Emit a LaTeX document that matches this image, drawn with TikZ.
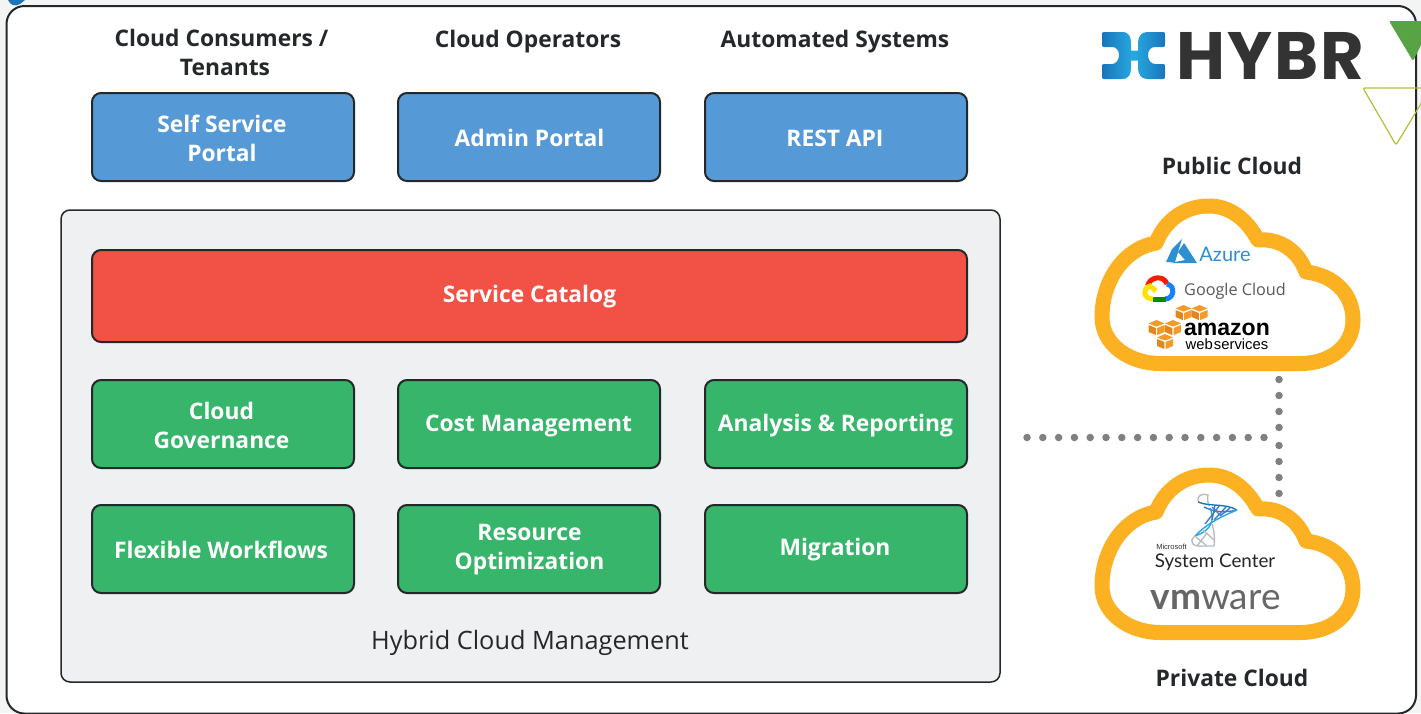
\documentclass[tikz,border=0pt]{standalone}
\usepackage{fontspec}
\setmainfont{Open Sans}
\newfontfamily\logofont{Liberation Sans}
\newfontfamily\thinfont{Lato}
\newfontfamily\brandfont[LetterSpace=3]{Poppins}
\usepackage{tikz}
\definecolor{FrameBack}{HTML}{F3F4F4}
\definecolor{PanelBack}{HTML}{EEF0F1}
\definecolor{EdgeDark}{HTML}{25282A}
\definecolor{PortalBlue}{HTML}{559AD6}
\definecolor{CatalogRed}{HTML}{F25145}
\definecolor{ModuleGreen}{HTML}{36B56B}
\definecolor{CloudGold}{HTML}{FBB122}
\definecolor{DotGrey}{HTML}{7F8082}
\definecolor{AwsOrange}{HTML}{F39A2B}
\definecolor{AwsDark}{HTML}{E4851E}
\definecolor{MarkEnd}{HTML}{1B75BB}
\definecolor{MarkMid}{HTML}{27AAE1}
\definecolor{AzureBlue}{HTML}{2E8FD0}
\definecolor{LeafGreen}{HTML}{58A445}
\definecolor{LeafOlive}{HTML}{B5BD3C}
\definecolor{HelixBlue}{HTML}{3F7CC8}
\definecolor{HelixGrey}{HTML}{B9BDC2}
\tikzstyle{none}=[inner sep=0pt,align=center]
\tikzstyle{head}=[none,font=\bfseries\fontsize{22.8}{29}\selectfont,text=EdgeDark]
\tikzstyle{tile}=[draw=EdgeDark,line width=2pt,rounded corners=9pt,minimum width=262pt,minimum height=88pt,inner sep=0pt]
\tikzstyle{boxtext}=[none,font=\bfseries\fontsize{22.8}{29}\selectfont,text=white]
\tikzstyle{portal}=[tile,fill=PortalBlue]
\tikzstyle{module}=[tile,fill=ModuleGreen]
\tikzstyle{dots}=[draw=DotGrey,line width=7.5pt,line cap=round]
\tikzstyle{cloudline}=[draw=CloudGold,line width=15pt,fill=white,line join=round]
\tikzstyle{gline}=[line width=5pt]
\tikzstyle{helix}=[draw=HelixBlue,line width=1.4pt]
\tikzstyle{helixgrey}=[draw=HelixGrey,line width=1.4pt]
\newcommand{\cloudpath}{(1160,363.5) -- (1300,363.5) .. controls (1332,363.5) and (1353,345) .. (1353,320) .. controls (1353,293) and (1333,275) .. (1306,272) .. controls (1299,252) and (1281,238) .. (1258,240) .. controls (1246,218) and (1229,206) .. (1209,206) .. controls (1185,206) and (1165,220) .. (1156,243) .. controls (1125,248) and (1102,280) .. (1102,317) .. controls (1102,345) and (1130,363.5) .. (1160,363.5) -- cycle}
\newcommand{\awscube}[2]{%
  \fill [AwsOrange] (#1-8,#2+3.5) -- (#1,#2) -- (#1+8,#2+3.5) -- (#1,#2+6.5) -- cycle;
  \fill [AwsDark] (#1-8,#2+5) -- (#1-.7,#2+8) -- (#1-.7,#2+15) -- (#1-8,#2+12) -- cycle;
  \fill [AwsOrange] (#1+8,#2+5) -- (#1+.7,#2+8) -- (#1+.7,#2+15) -- (#1+8,#2+12) -- cycle;}

\begin{document}
\begin{tikzpicture}[x=1pt,y=-1pt]
  \useasboundingbox (0,0) rectangle (1421,713);
  \fill [FrameBack] (0,0) rectangle (1421,713);
  \fill [MarkEnd] (8,0) .. controls (10,5) and (15,7) .. (20,4) -- (25,0) -- cycle;
  \draw [draw=EdgeDark,line width=2pt,fill=white,rounded corners=18pt] (6.5,6) rectangle (1416,713.5);
  % audience headings
  \node [style=head] (0) at (221.5,52) {Cloud Consumers /\\\hspace*{7pt}Tenants};
  \node [style=head] (1) at (528,42) {Cloud Operators};
  \node [style=head] (2) at (835,42) {Automated Systems};
  % portals
  \node [style=portal] (3) at (223,137) {};
  \node [style=portal] (4) at (529,137) {};
  \node [style=portal] (5) at (836,137) {};
  \node [style=boxtext] (6) at (222,138) {Self Service\\Portal};
  \node [style=boxtext] (7) at (529.5,138) {Admin Portal};
  \node [style=boxtext] (8) at (835,138) {REST API};
  % management panel
  \draw [draw=EdgeDark,line width=1.5pt,fill=PanelBack,rounded corners=9pt] (61,210) rectangle (1000,682);
  \node [style=tile,fill=CatalogRed,minimum width=875pt,minimum height=92pt] (9) at (529.5,296) {};
  \node [style=boxtext] (10) at (529.5,296.5) {Service Catalog};
  \node [style=module] (11) at (223,424) {};
  \node [style=module] (12) at (529,424) {};
  \node [style=module] (13) at (836,424) {};
  \node [style=module] (14) at (223,549) {};
  \node [style=module] (15) at (529,549) {};
  \node [style=module] (16) at (836,549) {};
  \node [style=boxtext] (17) at (221.5,425) {Cloud\\Governance};
  \node [style=boxtext] (18) at (528.5,426) {Cost Management};
  \node [style=boxtext] (19) at (835.5,426) {Analysis \& Reporting};
  \node [style=boxtext] (20) at (221,550) {Flexible Workflows};
  \node [style=boxtext] (21) at (529.5,550) {Resource\\Optimization};
  \node [style=boxtext] (22) at (835,550) {Migration};
  \node [style=none,font=\fontsize{25.3}{29}\selectfont,text=EdgeDark] (23) at (530,643) {Hybrid Cloud Management};
  % cloud headings
  \node [style=head] (24) at (1232,166) {Public Cloud};
  \node [style=head] (25) at (1232,678) {Private Cloud};
  % connectors
  \coordinate (26) at (1027,437.5);
  \coordinate (27) at (1264,437.5);
  \coordinate (28) at (1279,379.5);
  \coordinate (29) at (1279,427.5);
  \coordinate (30) at (1279,445.5);
  \coordinate (31) at (1279,493.5);
  \draw [style=dots,dash pattern=on 0pt off 15.8pt] (26) to (27);
  \draw [style=dots,dash pattern=on 0pt off 15.99pt] (28) to (29);
  \draw [style=dots,dash pattern=on 0pt off 15.99pt] (30) to (31);
  % clouds
  \draw [style=cloudline] \cloudpath;
  \begin{scope}[yshift=-269pt]
    \draw [style=cloudline] \cloudpath;
  \end{scope}
  % logo
  \shade [left color=MarkEnd,right color=MarkEnd,middle color=MarkMid] (1104,32) -- (1122,32) .. controls (1129,32) and (1131,37) .. (1131,43) -- (1131,50.5) -- (1138,50.5) -- (1138,43) .. controls (1138,37) and (1141,32) .. (1147,32) -- (1163,32) .. controls (1165,32) and (1165,33) .. (1165,35) -- (1165,44) .. controls (1165,46) and (1165,47) .. (1163,47) -- (1155,47) .. controls (1151,47) and (1148,50) .. (1148,55) .. controls (1148,60) and (1151,64) .. (1155,64) -- (1163,64) .. controls (1165,64) and (1165,65) .. (1165,67) -- (1165,76) .. controls (1165,78) and (1165,79) .. (1163,79) -- (1147,79) .. controls (1141,79) and (1138,74) .. (1138,68) -- (1138,60.5) -- (1131,60.5) -- (1131,68) .. controls (1131,74) and (1129,79) .. (1122,79) -- (1104,79) .. controls (1102,79) and (1102,78) .. (1102,76) -- (1102,67) .. controls (1102,65) and (1102,64) .. (1104,64) -- (1112,64) .. controls (1116,64) and (1119,60) .. (1119,55) .. controls (1119,50) and (1116,47) .. (1112,47) -- (1104,47) .. controls (1102,47) and (1102,46) .. (1102,44) -- (1102,35) .. controls (1102,33) and (1102,32) .. (1104,32) -- cycle;
  \node [style=none,font=\brandfont\bfseries\fontsize{67}{67}\selectfont,text=black!80] (32) at (1270,56) {HYBR};
  \fill [LeafGreen,rounded corners=2pt] (1389,21) -- (1425,21) -- (1425,37) -- (1413,61) -- cycle;
  \draw [draw=LeafOlive,line width=1.2pt,rounded corners=2pt] (1425,88) -- (1363,88) -- (1396,145) -- (1425,97);
  % public cloud logos
  \fill [AzureBlue] (1182,239) -- (1172,249) -- (1166,262) -- (1175,262) -- cycle;
  \fill [AzureBlue] (1184,243) -- (1197,263) -- (1170,263) -- (1185,260) -- (1178,252) -- cycle;
  \node [style=none,font=\thinfont\fontsize{20}{20}\selectfont,text=AzureBlue] (33) at (1225,254) {Azure};
  \draw [style=gline,draw=red!80!orange] (1147.5,286) .. controls (1150,276) and (1164,275) .. (1167,284);
  \draw [style=gline,draw=blue!55!cyan!90!white] (1167,284) .. controls (1176,286) and (1174,299) .. (1165,299);
  \draw [style=gline,draw=green!55!black] (1166,299) -- (1153,299);
  \draw [style=gline,draw=yellow!85!orange] (1153,299) .. controls (1143,299) and (1142,288) .. (1150,286) -- (1156,291);
  \node [style=none,font=\fontsize{16.2}{18}\selectfont,text=black!65] (34) at (1235,291) {Google Cloud};
  \awscube{1183.5}{305} \awscube{1199.5}{305} \awscube{1156.5}{320} \awscube{1173}{320} \awscube{1165}{334}
  \node [style=none,font=\logofont\bfseries\fontsize{23}{23}\selectfont] (35) at (1227,329) {amazon};
  \node [style=none,font=\logofont\fontsize{14.8}{16}\selectfont] (36) at (1227,344) {web\hspace{-3pt} services};
  % private cloud logos
  \draw [style=helixgrey] (1199,503) .. controls (1195,495) and (1203,493) .. (1208,495) .. controls (1207,499) and (1208,503) .. (1209,506);
  \draw [style=helix,draw=MarkEnd] (1198,502) .. controls (1210,507) and (1225,503) .. (1237,510);
  \draw [style=helix] (1237,510) .. controls (1224,513) and (1214,512) .. (1204,507);
  \draw [style=helix,draw=MarkMid] (1237,510) .. controls (1220,517) and (1205,525) .. (1195,536);
  \draw [style=helix,draw=MarkMid] (1210,508) .. controls (1215,520) and (1212,530) .. (1195,536);
  \draw [style=helix] (1215,505) -- (1212,520) (1220,505) -- (1205,524) (1226,507) -- (1214,520) (1230,508) -- (1220,516) (1212,507) -- (1221,516);
  \draw [style=helixgrey] (1195,536) .. controls (1188,542) and (1193,547) .. (1203,546) -- (1214,546) .. controls (1215,538) and (1214,530) .. (1212,524);
  \draw [style=helixgrey] (1196,537) -- (1207,546) (1203,530) -- (1214,540) (1207,533) -- (1197,546);
  \node [style=none,font=\logofont\fontsize{7.5}{7}\selectfont,text=black!80] (37) at (1171.5,547) {Microsoft};
  \node [style=none,font=\thinfont\fontsize{18.8}{21}\selectfont,text=black!85] (38) at (1215,562) {System Center};
  \node [style=none,font=\thinfont\fontsize{37}{38}\selectfont,text=black!60] (39) at (1215.5,600) {\textbf{vm}ware};
\end{tikzpicture}
\end{document}
